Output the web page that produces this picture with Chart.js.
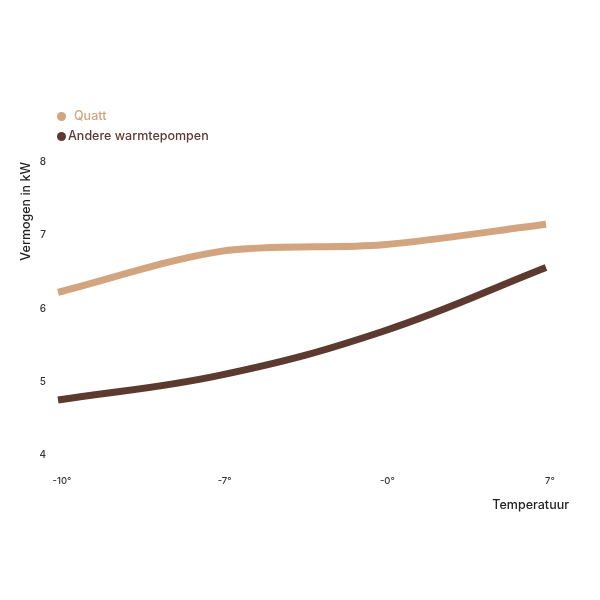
<!DOCTYPE html>
<html>
<head>
<meta charset="utf-8">
<script src="https://cdn.jsdelivr.net/npm/chart.js@4.4.1/dist/chart.umd.min.js"></script>
<style>
  html, body { margin:0; padding:0; background:#fff; }
  #wrap { position:relative; width:600px; height:600px; font-family:Inter, "Noto Sans", sans-serif; }
  #legend { position:absolute; left:57px; top:106px; font-size:12.5px; font-weight:500; }
  #legend div { height:20px; line-height:20px; display:flex; align-items:center; }
  #legend span.dot { width:9px; height:9px; border-radius:50%; display:inline-block; }
  #xTitle { position:absolute; right:31px; top:497px; font-size:12.5px; font-weight:500; color:#222; }
</style>
</head>
<body>
<div id="wrap">
  <canvas id="chart" width="600" height="600"></canvas>
  <div id="legend"></div>
  <div id="xTitle">Temperatuur</div>
</div>
<script>
const temps = ['-10°', '-7°', '-0°', '7°'];
const quatt = [6.22, 6.78, 6.87, 7.15];
const andere = [4.75, 5.09, 5.69, 6.56];
const yTicks = [4, 5, 6, 7, 8];

const quattColor = '#D2A47F';
const andereColor = '#5D3A30';

// legend (stacked, top-left)
const legend = document.getElementById('legend');
[['Quatt', quattColor], ['Andere warmtepompen', andereColor]].forEach(([name, c], i) => {
  const row = document.createElement('div');
  row.style.color = c;
  row.innerHTML = `<span class="dot" style="background:${c};margin-right:${i ? 2 : 8}px"></span>${name}`;
  legend.appendChild(row);
});

const ctx = document.getElementById('chart').getContext('2d');
new Chart(ctx, {
  type: 'line',
  data: {
    labels: temps,
    datasets: [
      {label: 'Quatt', data: quatt, borderColor: quattColor, borderWidth: 7, tension: 0.3, pointRadius: 0, borderCapStyle: 'butt'},
      {label: 'Andere warmtepompen', data: andere, borderColor: andereColor, borderWidth: 7, tension: 0.4, pointRadius: 0, borderCapStyle: 'butt'}
    ]
  },
  options: {
    responsive: false,
    animation: false,
    layout: {padding: {left: 19, right: 54, top: 162, bottom: 85}},
    plugins: {legend: {display: false}, tooltip: {enabled: false}},
    scales: {
      x: {
        grid: {display: false, drawTicks: false}, border: {display: false},
        ticks: {color: '#333', font: {family: 'Inter', size: 9.5, weight: 500}, padding: 20, maxRotation: 0, labelOffset: 4},
        afterFit: s => { s.height = 60; }
      },
      y: {
        min: 4, max: 8,
        grid: {display: false, drawTicks: false}, border: {display: false},
        afterBuildTicks: s => { s.ticks = yTicks.map(v => ({value: v})); },
        ticks: {color: '#333', font: {family: 'Inter', size: 10, weight: 500}, padding: 12},
        title: {display: true, text: 'Vermogen in kW', align: 'end', color: '#222', font: {family: 'Inter', size: 12.5, weight: 500}, padding: 0},
        afterFit: s => { s.width = 39; }
      }
    }
  }
});
</script>
</body>
</html>
